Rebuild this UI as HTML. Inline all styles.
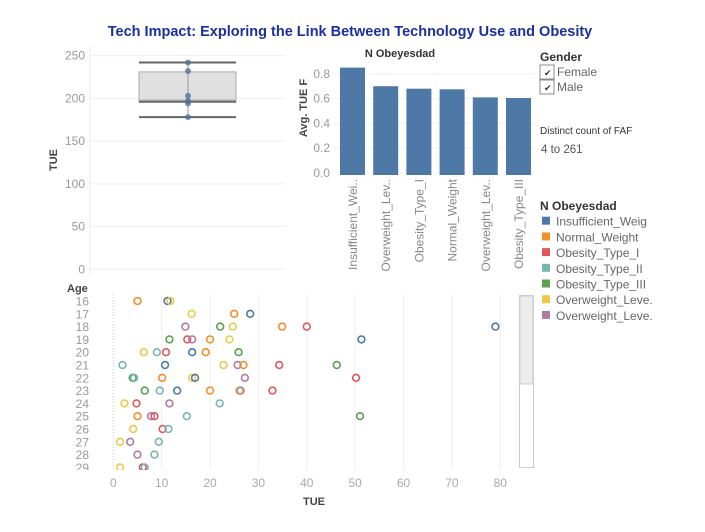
<!DOCTYPE html>
<html><head><meta charset="utf-8"><style>
body{margin:0;background:#fff;width:705px;height:527px;overflow:hidden;font-family:"Liberation Sans",sans-serif}
svg text{font-family:"Liberation Sans",sans-serif}
</style></head><body>
<svg id="s" width="705" height="527">
<text x="350" y="36" text-anchor="middle" font-size="14.5" font-weight="bold" fill="#1a2fa0">Tech Impact: Exploring the Link Between Technology Use and Obesity</text>
<g id="box"></g>
<g id="bar"></g>
<g id="sc"></g>
<g>
<text x="540" y="61" font-size="12" font-weight="bold" fill="#333">Gender</text>
<rect x="540" y="65" width="14" height="14" fill="#fff" stroke="#888"/>
<text x="544" y="76" font-size="9" fill="#333">✔</text>
<text x="557" y="76" font-size="12" fill="#666">Female</text>
<rect x="540" y="80" width="14" height="14" fill="#fff" stroke="#888"/>
<text x="544" y="91" font-size="9" fill="#333">✔</text>
<text x="557" y="91" font-size="12" fill="#666">Male</text>
<text x="540" y="134" font-size="10" fill="#333">Distinct count of FAF</text>
<text x="541" y="153" font-size="11.5" fill="#555">4 to 261</text>
<text x="540" y="210" font-size="12" font-weight="bold" fill="#333">N Obeyesdad</text>
<g id="leg"></g>
</g>
</svg>
<script>
var classNames=["Insufficient_Weig","Normal_Weight","Obesity_Type_I","Obesity_Type_II","Obesity_Type_III","Overweight_Leve.","Overweight_Leve."];
var classColors=["#4e79a7","#f28e2b","#e15759","#76b7b2","#59a14f","#edc948","#b07aa1"];
var boxTicks=[0,50,100,150,200,250];
var boxPoints=[242,232,203,197,194,178];
var boxStats=[178,196,199,231,242]; // whiskerLow, q1, median, q3, whiskerHigh
var barCats=["Insufficient_Wei..","Overweight_Lev..","Obesity_Type_I","Normal_Weight","Overweight_Lev..","Obesity_Type_III"];
var barVals=[0.85,0.70,0.68,0.675,0.61,0.605];
var barTicks=[0.0,0.2,0.4,0.6,0.8];
var ages=[16,17,18,19,20,21,22,23,24,25,26,27,28,29];
var xTicks=[0,10,20,30,40,50,60,70,80];
// [TUE, age, classIndex]
var scTUE=[5,11.2,11.8, 16.2,25,28.3, 14.9,22.1,24.7,34.9,40,79, 11.6,15.3,16.3,20,24,51.3, 6.3,9,10.9,16.3,19.1,25.9, 1.9,10.7,22.8,25.7,26.9,34.3,46.2, 4,4.3,10.1,16.3,16.9,27.2,50.2, 6.5,9.6,13.2,20,26,26.3,32.9, 2.3,4.8,11.6,22, 5,7.8,8.5,15.2,51, 4.1,10.2,11.4, 1.4,3.5,9.4, 5,8.5, 1.4,6.1,6.5];
var scAge=[16,16,16, 17,17,17, 18,18,18,18,18,18, 19,19,19,19,19,19, 20,20,20,20,20,20, 21,21,21,21,21,21,21, 22,22,22,22,22,22,22, 23,23,23,23,23,23,23, 24,24,24,24, 25,25,25,25,25, 26,26,26, 27,27,27, 28,28, 29,29,29];
var scCls=[1,0,5, 5,1,0, 6,4,5,1,2,0, 4,2,6,1,5,0, 5,3,2,0,1,4, 3,0,5,6,1,2,4, 4,3,1,5,0,6,2, 4,3,0,1,5,6,2, 5,2,6,3, 1,6,2,3,4, 5,2,3, 5,6,3, 6,3, 5,2,3];
var NS="http://www.w3.org/2000/svg";
function mk(p,t,a,txt){var e=document.createElementNS(NS,t);for(var k in a)e.setAttribute(k,a[k]);if(txt!=null)e.textContent=txt;p.appendChild(e);return e;}
// box plot
var B=document.getElementById('box');
function by(v){return 269.3-v*0.8546;}
boxTicks.forEach(function(t){
 var g=mk(B,'line',{x1:90,x2:285,y1:by(t),y2:by(t),stroke:'#eee'});
 
 
 var l=mk(B,'text',{x:85,y:by(t)+4,'text-anchor':'end','font-size':12,fill:'#999'},t);
 
 
});
mk(B,'line',{x1:90,x2:90,y1:45,y2:277,stroke:'#eee'});
var yt=mk(B,'text',{x:0,y:0,transform:'translate(57,160) rotate(-90)','text-anchor':'middle','font-size':11,'font-weight':'bold',fill:'#444'},'TUE');


var bx1=139,bx2=236,bc=188;
var r=mk(B,'rect',{x:bx1,y:by(boxStats[3]),width:bx2-bx1,height:by(boxStats[1])-by(boxStats[3]),fill:'#e0e0e0',stroke:'#aaa'});


mk(B,'rect',{x:bx1,y:by(boxStats[2]),width:bx2-bx1,height:by(boxStats[1])-by(boxStats[2]),fill:'#bdbdbd'});
mk(B,'line',{x1:bc,x2:bc,y1:by(boxStats[4]),y2:by(boxStats[0]),stroke:'#999'});
[0,1,4].forEach(function(i){var w=mk(B,'line',{x1:bx1,x2:bx2,y1:by(boxStats[i]),y2:by(boxStats[i]),stroke:'#666','stroke-width':2});
 
 });
boxPoints.forEach(function(v){var c=mk(B,'circle',{cx:bc,cy:by(v),r:3,fill:'#4e6f98','fill-opacity':0.75});
 
 });
// bar chart
var R=document.getElementById('bar');
function ry(v){return 173-v*124;}
var bt=mk(R,'text',{x:400,y:57,'text-anchor':'middle','font-size':11,'font-weight':'bold',fill:'#333'},'N Obeyesdad');


barTicks.forEach(function(t){
 mk(R,'line',{x1:334,x2:535,y1:ry(t),y2:ry(t),stroke:'#f0f0f0'});
 var l=mk(R,'text',{x:330,y:ry(t)+4,'text-anchor':'end','font-size':12,fill:'#999'},t.toFixed(1));
 
 
});
var at=mk(R,'text',{x:0,y:0,transform:'translate(307,108) rotate(-90)','text-anchor':'middle','font-size':11,'font-weight':'bold',fill:'#444'},'Avg. TUE F');


barCats.forEach(function(c,i){
 var x=340+i*33.2;
 var b=mk(R,'rect',{x:x,y:ry(barVals[i]),width:25,height:175-ry(barVals[i]),fill:'#4e79a7'});
 
 
 var l=mk(R,'text',{x:0,y:0,transform:'translate('+(x+17)+',179) rotate(-90)','text-anchor':'end','font-size':12,fill:'#888'},c);
 
 
});
// scatter
var S=document.getElementById('sc');
function sx(v){return 113.3+v*4.837;}
function sy(a){return 301+(a-16)*12.8;}
xTicks.forEach(function(t){
 if(t>0)mk(S,'line',{x1:sx(t),x2:sx(t),y1:294,y2:470,stroke:'#eee'});
 var l=mk(S,'text',{x:sx(t),y:487,'text-anchor':'middle','font-size':12,fill:'#aaa'},t);
 
 
});
mk(S,'line',{x1:sx(0),x2:sx(0),y1:294,y2:470,stroke:'#ccc','stroke-dasharray':'1,2'});
ages.forEach(function(a){
 var l=mk(S,'text',{x:89,y:sy(a)+4.5,'text-anchor':'end','font-size':12,fill:'#999'},a);
 
 
});
var ag=mk(S,'text',{x:67,y:292,'font-size':11,'font-weight':'bold',fill:'#444'},'Age');


var xt=mk(S,'text',{x:314,y:505,'text-anchor':'middle','font-size':11,'font-weight':'bold',fill:'#444'},'TUE');


for(var i=0;i<scTUE.length;i++){
 var c=mk(S,'circle',{cx:sx(scTUE[i]),cy:sy(scAge[i]),r:3.4,fill:'none',stroke:classColors[scCls[i]],'stroke-width':1.6});
 
 
}
mk(S,'rect',{x:0,y:470,width:540,height:6,fill:'#fff'});
var sb=mk(S,'rect',{x:519.5,y:295.5,width:14,height:172,fill:'#fff',stroke:'#ccc'});


var th=mk(S,'rect',{x:520,y:296,width:13,height:88,fill:'#ececec',stroke:'#d0d0d0'});


// legend
var L=document.getElementById('leg');
classNames.forEach(function(n,i){
 var y=221.7+i*15.7;
 var s=mk(L,'rect',{x:542,y:y-5,width:8,height:8,fill:classColors[i]});
 
 
 var t=mk(L,'text',{x:556,y:y+4,'font-size':12,fill:'#666'},n);
 
 
});
</script>
</body></html>
